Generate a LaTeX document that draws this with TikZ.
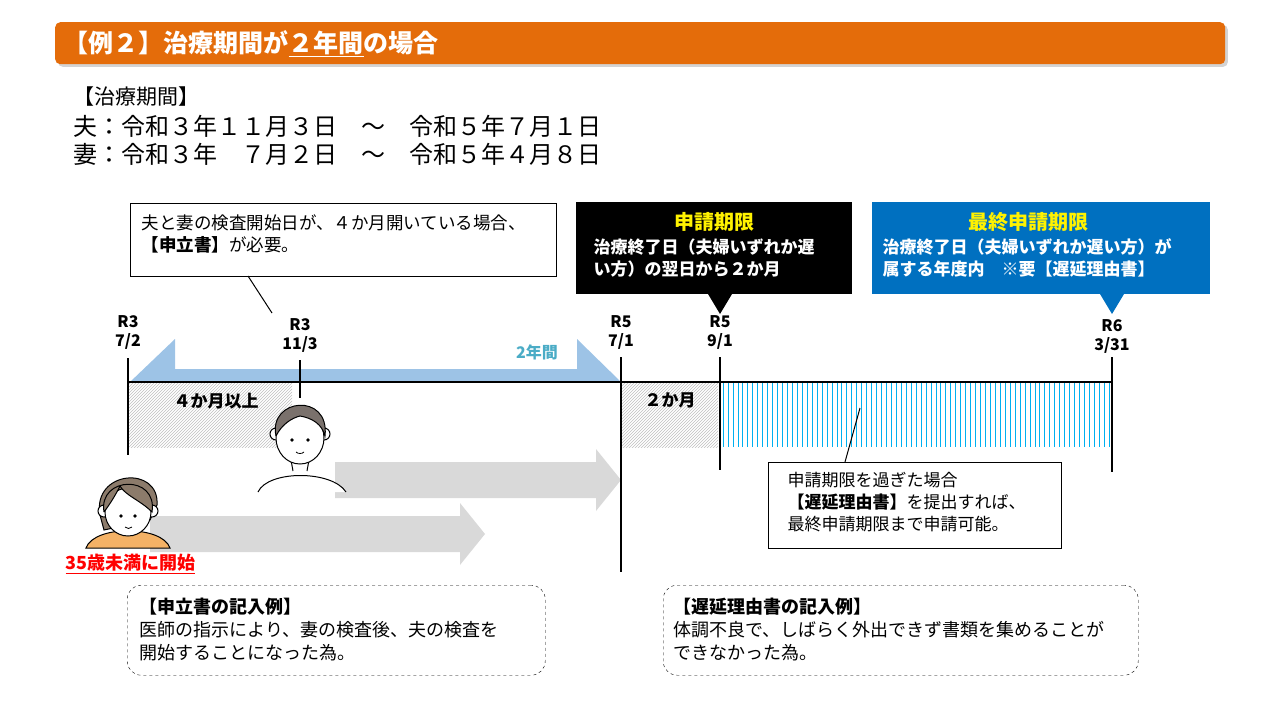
\documentclass[tikz,border=0pt]{standalone}
\usepackage{fontspec}
\setmainfont{Noto Sans CJK JP}
\usetikzlibrary{patterns,shadows}
\definecolor{org}{HTML}{E46C0A}
\definecolor{lblue}{HTML}{9DC3E6}
\definecolor{tblue}{HTML}{4BACC6}
\definecolor{cyanl}{HTML}{00B0F0}
\definecolor{dblue}{HTML}{0070C0}
\definecolor{gr}{HTML}{D9D9D9}
\definecolor{hairw}{HTML}{8C7B6B}
\definecolor{hairm}{HTML}{7A716C}
\definecolor{shirt}{HTML}{F4B266}
\begin{document}
\begin{tikzpicture}[x=1pt,y=-1pt,
  lbl/.style={font=\fontsize{16}{19}\selectfont\bfseries,align=center},
  txt/.style={font=\fontsize{17.5}{22}\selectfont,align=left,anchor=north west},
  vl/.style={line width=1.5pt},
  face/.style={draw=black,line width=1pt,fill=white}]
\useasboundingbox (0,0) rectangle (1280,720);
% title
\node[draw=none,fill=org,rounded corners=5pt,minimum width=1170pt,minimum height=42pt,anchor=north west,drop shadow={opacity=0.35}] (title) at (55,22) {};
\node[anchor=west,text=white,font=\fontsize{25}{27}\selectfont\bfseries] (tt) at (60,44) {【例２】治療期間が\underline{２年間}の場合};
% period
\node[anchor=west,font=\fontsize{21}{24}\selectfont] (p0) at (70,97) {【治療期間】};
\node[anchor=west,font=\fontsize{24}{26}\selectfont] (p1) at (70,126) {夫：令和３年１１月３日\quad ～\quad 令和５年７月１日};
\node[anchor=west,font=\fontsize{24}{26}\selectfont] (p2) at (70,154) {妻：令和３年\quad ７月２日\quad ～\quad 令和５年４月８日};
% box1
\node[draw,line width=1pt,fill=white,minimum width=426pt,minimum height=73pt,anchor=north west] (b1) at (130,203) {};
\node[txt] (b1t) at (138,211) {夫と妻の検査開始日が、４か月開いている場合、\\\textbf{【申立書】}が必要。};
\coordinate (b1p) at (248,276);
\coordinate (b1q) at (272,313);
\draw[line width=1pt] (b1p) -- (b1q);
% black box
\fill (576,202) rectangle (852,294);
\coordinate (bk1) at (708,294); \coordinate (bk2) at (732,294); \coordinate (bk3) at (720,314);
\fill (bk1) -- (bk2) -- (bk3) -- cycle;
\node[text=yellow,font=\fontsize{20}{22}\selectfont\bfseries] (bkt) at (714,222) {申請期限};
\node[text=white,font=\fontsize{17}{22}\selectfont\bfseries,align=left,anchor=north west] (bkx) at (590,235) {治療終了日（夫婦いずれか遅\\い方）の翌日から２か月};
% blue box
\fill[dblue] (872,202) rectangle (1210,294);
\coordinate (bl1) at (1100,294); \coordinate (bl2) at (1124,294); \coordinate (bl3) at (1112,314);
\fill[dblue] (bl1) -- (bl2) -- (bl3) -- cycle;
\node[text=yellow,font=\fontsize{20}{22}\selectfont\bfseries] (blt) at (1028,222) {最終申請期限};
\node[text=white,font=\fontsize{17}{22}\selectfont\bfseries,align=left,anchor=north west] (blx) at (879,235) {治療終了日（夫婦いずれか遅い方）が\\属する年度内\quad ※要【遅延理由書】};
% blue arrow
\fill[lblue] (130,382) -- (175,339) -- (175,369) -- (577,369) -- (577,339) -- (621,382) -- cycle;
\node[text=tblue,lbl] (y2) at (537,352) {2年間};
% hatch
\fill[pattern=north east lines,pattern color=gray!50] (128,383) rectangle (292,447);
\fill[pattern=north east lines,pattern color=gray!50] (621,383) rectangle (718,447);
\node[lbl,font=\fontsize{17}{19}\selectfont\bfseries] (h1) at (216,401) {４か月以上};
\node[lbl,font=\fontsize{17}{19}\selectfont\bfseries] (h2) at (670,400) {２か月};
\foreach \i in {0,...,78} \draw[cyanl,line width=0.7pt] (723+\i*4.95,383) -- (723+\i*4.95,447);
% gray arrows
\fill[gr] (335,462) -- (596,462) -- (596,449) -- (621,480) -- (596,511) -- (596,498) -- (335,498) -- cycle;
\fill[gr] (150,516) -- (460,516) -- (460,503) -- (485,534) -- (460,565) -- (460,552) -- (150,552) -- cycle;
% axis
\draw[vl] (128,382) -- (1112,382);
\draw[vl] (128,358) -- (128,455);
\draw[vl] (300,360) -- (300,398);
\draw[vl] (621,357) -- (621,572);
\draw[vl] (720,357) -- (720,470);
\draw[vl] (1112,357) -- (1112,472);
\node[lbl] (d1) at (128,333) {R3\\7/2};
\node[lbl] (d2) at (300,335) {R3\\11/3};
\node[lbl] (d3) at (621,333) {R5\\7/1};
\node[lbl] (d4) at (720,333) {R5\\9/1};
\node[lbl] (d5) at (1112,337) {R6\\3/31};
% man
\draw[face] (258,492) .. controls (268,470) and (332,470) .. (346,492);
\fill[white] (290,460) rectangle (310,475);
\draw[line width=1pt] (291,460) -- (293,471) (309,460) -- (307,471);
\draw[face] (276,434) circle (6);
\draw[face] (324,434) circle (6);
\draw[face] (300,438) ellipse (24 and 26);
\fill[hairm,draw=black,line width=1pt] (276,436) .. controls (268,398) and (330,392) .. (325,436) .. controls (322,424) and (312,418) .. (300,416) .. controls (292,418) and (282,424) .. (276,436);
\fill (292,440) circle (1.8); \fill (308,440) circle (1.8);
\draw[line width=0.8pt] (296,452) .. controls (298,454) and (302,454) .. (304,452);
% woman
\fill[hairw,draw=black,line width=1pt] (100,515) .. controls (92,470) and (160,465) .. (157,505) -- (150,520) -- (104,530) -- cycle;
\fill[shirt,draw=black,line width=1pt] (86,548) .. controls (94,525) and (162,525) .. (170,548) -- cycle;
\fill[white] (118,518) rectangle (138,532);
\draw[line width=1pt] (119,518) -- (120,530) (137,518) -- (136,530);
\draw[face] (104,511) circle (6);
\draw[face] (152,511) circle (6);
\draw[face] (128,512) ellipse (23 and 24);
\fill[hairw,draw=black,line width=1pt] (104,512) .. controls (98,476) and (158,474) .. (152,512) .. controls (140,500) and (126,496) .. (120,486) .. controls (115,496) and (110,504) .. (104,512);
\fill (121,516) circle (1.8); \fill (135,516) circle (1.8);
\draw[line width=0.8pt] (125,527) .. controls (127,529) and (130,529) .. (132,527);
\node[text=red,font=\fontsize{18}{20}\selectfont\bfseries,anchor=west] (u35) at (62,564) {\underline{35歳未満に開始}};
% box3
\node[draw,line width=1pt,fill=white,minimum width=293pt,minimum height=86pt,anchor=north west] (b3) at (768,462) {};
\node[txt,font=\fontsize{17}{22}\selectfont] (b3t) at (784,469) {申請期限を過ぎた場合\\\textbf{【遅延理由書】}を提出すれば、\\最終申請期限まで申請可能。};
\coordinate (b3p) at (860,408);
\coordinate (b3q) at (845,462);
\draw[line width=1pt] (b3p) -- (b3q);
% dashed boxes
\node[draw,dashed,rounded corners=14pt,minimum width=418pt,minimum height=90pt,anchor=north west] (e1) at (127,585) {};
\node[txt,font=\fontsize{18}{23}\selectfont] (e1t) at (136,594) {\textbf{【申立書の記入例】}\\医師の指示により、妻の検査後、夫の検査を\\開始することになった為。};
\node[draw,dashed,rounded corners=14pt,minimum width=475pt,minimum height=90pt,anchor=north west] (e2) at (663,585) {};
\node[txt,font=\fontsize{18}{23}\selectfont] (e2t) at (670,594) {\textbf{【遅延理由書の記入例】}\\体調不良で、しばらく外出できず書類を集めることが\\できなかった為。};
\end{tikzpicture}
\end{document}
